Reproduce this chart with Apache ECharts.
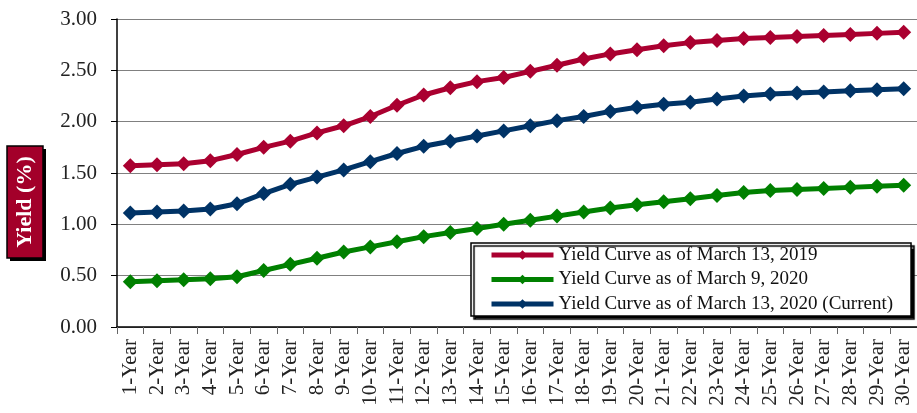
<!DOCTYPE html>
<html>
<head>
<meta charset="utf-8">
<script src="https://cdn.jsdelivr.net/npm/echarts@6/dist/echarts.min.js"></script>
<style>html,body{margin:0;padding:0;background:#fff}#c{width:917px;height:413px}</style>
</head>
<body>
<div id="c"></div>
<script>
var categories = ['1-Year','2-Year','3-Year','4-Year','5-Year','6-Year','7-Year','8-Year','9-Year','10-Year',
  '11-Year','12-Year','13-Year','14-Year','15-Year','16-Year','17-Year','18-Year','19-Year','20-Year',
  '21-Year','22-Year','23-Year','24-Year','25-Year','26-Year','27-Year','28-Year','29-Year','30-Year'];
var names = ['Yield Curve as of March 13, 2019','Yield Curve as of March 9, 2020','Yield Curve as of March 13, 2020 (Current)'];
var y2019 = [1.57,1.58,1.59,1.62,1.68,1.75,1.81,1.89,1.96,2.05,2.16,2.26,2.33,2.39,2.43,2.49,2.55,2.61,2.66,2.70,2.74,2.77,2.79,2.81,2.82,2.83,2.84,2.85,2.86,2.87];
var yMar9 = [0.44,0.45,0.46,0.47,0.49,0.55,0.61,0.67,0.73,0.78,0.83,0.88,0.92,0.96,1.00,1.04,1.08,1.12,1.16,1.19,1.22,1.25,1.28,1.31,1.33,1.34,1.35,1.36,1.37,1.38];
var yMar13 = [1.11,1.12,1.13,1.15,1.20,1.30,1.39,1.46,1.53,1.61,1.69,1.76,1.81,1.86,1.91,1.96,2.01,2.05,2.10,2.14,2.17,2.19,2.22,2.25,2.27,2.28,2.29,2.30,2.31,2.32];
var yTicks = [0, 3, 0.5];
var yName = 'Yield (%)';
var colors = ['#AA0030', '#008000', '#003366'];

var FONT = '"Liberation Serif", "DejaVu Serif", serif';
var chart = echarts.init(document.getElementById('c'));
function mk(name, data, color) {
  return {
    name: name, type: 'line', data: data,
    symbol: 'diamond', symbolSize: 15,
    itemStyle: {color: color},
    lineStyle: {color: color, width: 5},
    animation: false
  };
}
chart.setOption({
  animation: false,
  grid: {left: 117, top: 19, bottom: 86, right: -7, containLabel: false},
  xAxis: {
    type: 'category', data: categories, boundaryGap: true,
    axisLine: {lineStyle: {color: '#000', width: 1.5}},
    axisTick: {show: true, length: 7, lineStyle: {color: '#666'}},
    axisLabel: {rotate: 90, margin: 12, interval: 0, color: '#222', fontFamily: FONT, fontSize: 21}
  },
  yAxis: {
    type: 'value', min: yTicks[0], max: yTicks[1], interval: yTicks[2],
    axisLine: {show: true, lineStyle: {color: '#000', width: 1.5}},
    axisTick: {show: true, length: 6, lineStyle: {color: '#000'}},
    splitLine: {lineStyle: {color: '#808080', width: 1}},
    axisLabel: {margin: 20, color: '#222', fontFamily: FONT, fontSize: 21,
      formatter: function (v) { return v.toFixed(2); }}
  },
  legend: {
    orient: 'vertical', left: 471, top: 243,
    data: names,
    itemWidth: 62, itemHeight: 12, itemGap: 2.5,
    padding: [1, 18, 1, 18],
    backgroundColor: '#fff', borderColor: '#000', borderWidth: 1.5,
    shadowColor: '#000', shadowOffsetX: 3, shadowOffsetY: 3, shadowBlur: 1,
    lineStyle: {width: 5},
    textStyle: {fontFamily: FONT, fontSize: 19, color: '#111', lineHeight: 22}
  },
  graphic: [
    {type: 'rect', shape: {x: 10, y: 149, width: 36, height: 112}, style: {fill: '#000'}},
    {type: 'rect', shape: {x: 7, y: 146, width: 36, height: 112}, style: {fill: '#A3002A', stroke: '#000', lineWidth: 1.5}},
    {type: 'text', x: 25, y: 202, rotation: Math.PI / 2,
      style: {text: yName, align: 'center', verticalAlign: 'middle', fill: '#fff',
        font: 'bold 22px "Liberation Serif", serif'}}
  ],
  series: [mk(names[0], y2019, colors[0]), mk(names[1], yMar9, colors[1]), mk(names[2], yMar13, colors[2])]
});
</script>
</body>
</html>
